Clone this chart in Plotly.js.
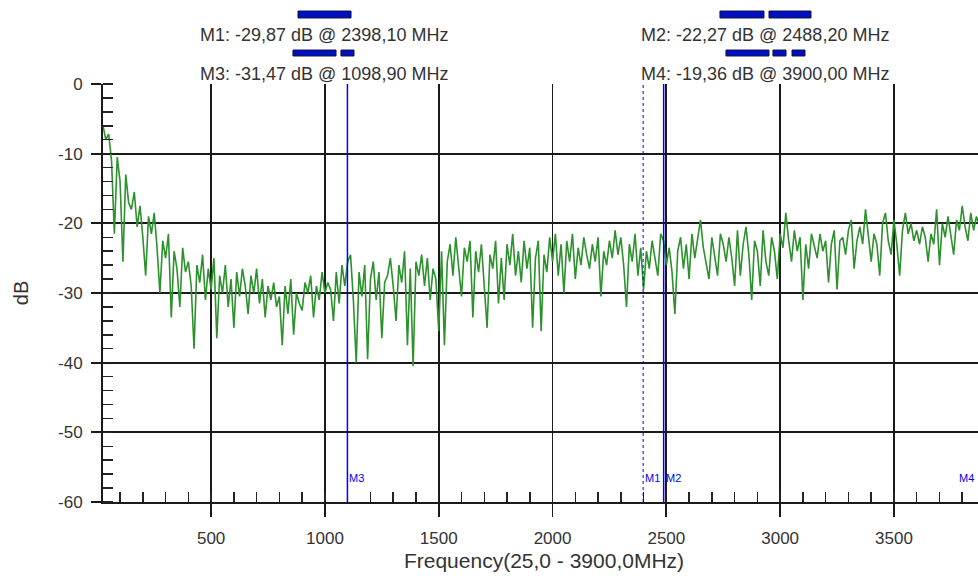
<!DOCTYPE html>
<html>
<head>
<meta charset="utf-8">
<script src="https://cdn.plot.ly/plotly-3.0.1.min.js"></script>
<style>
html,body{margin:0;padding:0;overflow:hidden;background:#fff;}
#chart{width:990px;height:583px;}
</style>
</head>
<body>
<div id="chart"></div>
<script>
// Sweep definition (from axis title)
const startFreq = 25.0;
const stopFreq = 3900.0;

const levels = [
-6.0,-8.0,-7.2,-11.0,-21.5,-10.5,-14.0,-25.5,-13.0,-17.0,
-18.0,-15.5,-20.5,-17.5,-22.0,-27.5,-19.0,-21.5,-18.5,-23.5,
-30.0,-22.5,-25.0,-21.5,-33.5,-24.0,-26.5,-32.0,-23.5,-27.0,
-25.5,-29.0,-38.0,-26.0,-28.5,-24.5,-31.0,-26.5,-29.5,-25.0,
-36.5,-27.5,-30.0,-26.0,-32.0,-28.0,-35.0,-27.0,-30.5,-26.5,
-29.0,-33.0,-27.5,-30.0,-26.5,-31.5,-28.0,-33.5,-29.0,-31.0,
-28.5,-32.0,-30.5,-37.5,-29.0,-33.0,-28.0,-36.0,-30.0,-31.5,
-32.5,-28.5,-30.0,-27.5,-33.5,-29.0,-31.0,-27.0,-30.0,-28.5,
-29.5,-34.0,-27.0,-31.5,-26.0,-29.0,-25.5,-24.5,-31.0,-40.0,
-27.0,-30.5,-26.0,-39.5,-28.0,-25.5,-31.0,-27.0,-36.5,-28.5,
-27.5,-25.0,-29.0,-34.0,-26.0,-28.5,-24.0,-37.5,-26.5,-40.5,
-25.5,-27.5,-24.5,-29.0,-25.0,-31.0,-26.5,-28.0,-35.5,-24.0,
-37.5,-25.5,-23.0,-27.5,-22.0,-26.0,-30.5,-23.5,-25.5,-22.5,
-33.5,-24.0,-27.0,-23.0,-29.5,-35.0,-24.5,-26.5,-22.5,-31.5,
-25.0,-31.0,-23.0,-26.0,-21.5,-27.5,-24.0,-28.5,-22.5,-26.5,
-23.5,-35.0,-25.0,-22.5,-35.5,-24.5,-27.0,-22.0,-25.5,-21.5,
-27.5,-23.0,-30.0,-22.5,-25.5,-21.5,-28.0,-23.5,-26.0,-22.0,
-24.5,-26.5,-23.0,-25.5,-22.0,-30.5,-24.0,-26.0,-22.5,-25.0,
-21.0,-24.5,-22.0,-26.0,-32.0,-23.0,-25.5,-21.5,-27.5,-23.5,
-29.5,-24.0,-26.5,-22.5,-25.0,-27.5,-21.5,-22.5,-26.0,-23.5,
-27.0,-33.0,-24.0,-22.0,-26.5,-23.0,-28.0,-21.5,-25.0,-22.5,
-19.5,-23.5,-26.0,-28.0,-22.0,-24.5,-27.5,-21.5,-23.0,-25.5,
-22.0,-25.0,-29.0,-21.0,-27.5,-23.0,-20.5,-24.5,-31.0,-22.5,
-24.0,-29.0,-21.0,-25.5,-27.5,-22.0,-24.0,-28.0,-21.5,-23.5,
-18.5,-22.5,-25.5,-21.0,-24.0,-22.0,-31.0,-23.0,-26.5,-21.5,
-23.5,-25.0,-21.5,-24.0,-22.5,-28.5,-23.0,-21.0,-29.5,-22.5,
-22.0,-24.5,-21.0,-19.5,-26.5,-22.5,-20.5,-23.0,-18.0,-22.0,
-25.5,-21.5,-23.0,-27.5,-20.0,-18.5,-22.5,-24.5,-19.5,-23.0,
-27.5,-21.0,-18.5,-21.5,-20.0,-22.5,-21.0,-23.0,-20.5,-22.0,
-25.5,-21.5,-23.0,-18.0,-26.0,-20.0,-22.0,-19.0,-21.5,-24.5,
-19.5,-21.0,-17.5,-20.5,-22.5,-18.5,-21.0,-19.0,-20.5,-18.5,-19.4
];

// Markers
const markerNames = ['M1', 'M2', 'M3', 'M4'];
const markerFreqs = [2398.10, 2488.20, 1098.90, 3900.00];
const markerLevels = [-29.87, -22.27, -31.47, -19.36];

// Tick labels
const xTickVals = [500, 1000, 1500, 2000, 2500, 3000, 3500];
const xTickText = ['500', '1000', '1500', '2000', '2500', '3000', '3500'];
const yTickVals = [0, -10, -20, -30, -40, -50, -60];
const yTickText = ['0', '-10', '-20', '-30', '-40', '-50', '-60'];

const step = (stopFreq - startFreq) / (levels.length - 1);
const freqs = levels.map((_, i) => startFreq + i * step);

const fmt = v => v.toFixed(2).replace('.', ',');
const fmt1 = v => v.toFixed(1).replace('.', ',');

const FONT = '"Liberation Sans", Arial, sans-serif';
const TXT = '#333';
const BLUE = 'rgb(0,0,255)';

const trace = {
  x: freqs, y: levels, type: 'scatter', mode: 'lines',
  line: {color: 'rgb(45,145,45)', width: 1.6},
  hoverinfo: 'x+y', showlegend: false
};

const shapes = [];
const annotations = [];

// marker lines + labels
markerNames.forEach((n, i) => {
  shapes.push({
    type: 'line', xref: 'x', yref: 'paper',
    x0: markerFreqs[i], x1: markerFreqs[i], y0: 0, y1: 1,
    line: {color: BLUE, width: n === 'M1' ? 1 : 1.5, dash: n === 'M1' ? 'dot' : 'solid'}
  });
  annotations.push({
    xref: 'x', yref: 'y', x: markerFreqs[i], y: -56.6,
    text: n, showarrow: false,
    xanchor: i === 3 ? 'right' : 'left', yanchor: 'middle',
    xshift: i === 3 ? -9 : 0,
    font: {family: FONT, size: 11, color: BLUE}
  });
});

// header readouts
const headerPos = [
  {x: 0.2511, y: 1.1172}, // M1
  {x: 0.7511, y: 1.1172}, // M2
  {x: 0.2511, y: 1.0239}, // M3
  {x: 0.7511, y: 1.0239}  // M4
];
markerNames.forEach((n, i) => {
  annotations.push({
    xref: 'paper', yref: 'paper', x: headerPos[i].x, y: headerPos[i].y,
    text: n + ': ' + fmt(markerLevels[i]) + ' dB @ ' + fmt(markerFreqs[i]) + ' MHz',
    showarrow: false, xanchor: 'center', yanchor: 'middle',
    font: {family: FONT, size: 18, color: TXT}
  });
});

// highlight bars above readouts
const bars = [
  [0.2211, 0.2812, 1.1579, 1.1746],
  [0.2154, 0.2642, 1.0670, 1.0813],
  [0.2698, 0.2846, 1.0670, 1.0813],
  [0.6995, 0.7494, 1.1579, 1.1746],
  [0.7551, 0.8027, 1.1579, 1.1746],
  [0.7063, 0.7551, 1.0670, 1.0813],
  [0.7596, 0.7744, 1.0670, 1.0813],
  [0.7812, 0.7959, 1.0670, 1.0813]
];
bars.forEach(b => shapes.push({
  type: 'rect', xref: 'paper', yref: 'paper',
  x0: b[0], x1: b[1], y0: b[2], y1: b[3],
  fillcolor: '#0010c0', line: {color: '#101040', width: 1}
}));

const layout = {
  width: 990, height: 583,
  margin: {l: 103, r: 5, t: 84, b: 81},
  paper_bgcolor: '#fff', plot_bgcolor: '#fff',
  font: {family: FONT, color: TXT, size: 17},
  showlegend: false,
  xaxis: {
    range: [startFreq, stopFreq], fixedrange: true,
    tickvals: xTickVals, ticktext: xTickText,
    showgrid: true, gridcolor: '#1a1a1a', gridwidth: 1.8,
    zeroline: false,
    showline: true, linecolor: '#1a1a1a', linewidth: 2,
    ticks: 'outside', ticklen: 13, tickwidth: 1.8, tickcolor: '#1a1a1a',
    ticklabelstandoff: 7,
    tickfont: {family: FONT, size: 17, color: TXT},
    minor: {dtick: 100, tick0: 0, ticks: 'inside', ticklen: 10, tickwidth: 1.5, tickcolor: '#222', showgrid: false},
    title: {text: 'Frequency(' + fmt1(startFreq) + ' - ' + fmt1(stopFreq) + 'MHz)', font: {family: FONT, size: 21, color: TXT}, standoff: 6}
  },
  yaxis: {
    range: [-60, 0], fixedrange: true,
    tickvals: yTickVals, ticktext: yTickText,
    showgrid: true, gridcolor: '#1a1a1a', gridwidth: 1.8,
    zeroline: false,
    showline: true, linecolor: '#1a1a1a', linewidth: 2,
    ticks: 'outside', ticklen: 10, tickwidth: 1.8, tickcolor: '#1a1a1a',
    ticklabelstandoff: 5,
    tickfont: {family: FONT, size: 17, color: TXT},
    minor: {dtick: 2, tick0: 0, ticks: 'inside', ticklen: 10, tickwidth: 1.5, tickcolor: '#222', showgrid: false},
    title: {text: 'dB', font: {family: FONT, size: 20, color: TXT}, standoff: 24}
  },
  shapes: shapes,
  annotations: annotations
};

Plotly.newPlot('chart', [trace], layout, {displayModeBar: false, staticPlot: true});
</script>
</body>
</html>
